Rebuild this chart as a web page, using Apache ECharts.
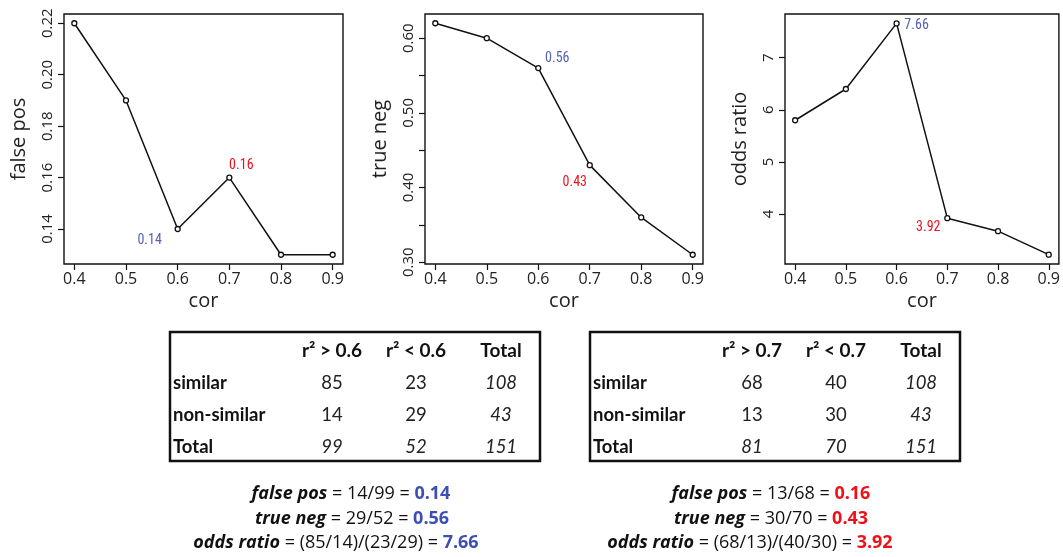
<!DOCTYPE html>
<html>
<head>
<meta charset="utf-8">
<script src="https://cdn.jsdelivr.net/npm/echarts@6/dist/echarts.min.js"></script>
<style>
  html, body { margin: 0; padding: 0; background: #fff; }
  #chart { width: 1063px; height: 557px; }
</style>
</head>
<body>
<div id="chart"></div>
<script>
// data
const cor = [0.4, 0.5, 0.6, 0.7, 0.8, 0.9];
const falsePos = [0.22, 0.19, 0.14, 0.16, 0.13, 0.13];
const trueNeg = [0.62, 0.60, 0.56, 0.43, 0.36, 0.31];
const oddsRatio = [5.8, 6.4, 7.66, 3.92, 3.67, 3.22];

const corTicks = [0.4, 0.5, 0.6, 0.7, 0.8, 0.9];
const fpTicks = [0.14, 0.16, 0.18, 0.20, 0.22];
const tnTicks = [0.30, 0.35, 0.40, 0.45, 0.50, 0.55, 0.60];
const tnLabels = [0.30, 0.40, 0.50, 0.60];
const orTicks = [4, 5, 6, 7];

// which points get a coloured note (r2 cut 0.6 = blue, 0.7 = red)
const blueIdx = 2;
const redIdx = 3;

const rowNames = ['similar', 'non-similar', 'Total'];
const heads1 = ['r² > 0.6', 'r² < 0.6', 'Total'];
const heads2 = ['r² > 0.7', 'r² < 0.7', 'Total'];
const counts1 = [[85, 23, 108], [14, 29, 43], [99, 52, 151]];
const counts2 = [[68, 40, 108], [13, 30, 43], [81, 70, 151]];

const formulas1 = [
  ['false pos', ' = 14/99 = ', '0.14'],
  ['true neg', ' = 29/52 = ', '0.56'],
  ['odds ratio', ' = (85/14)/(23/29) = ', '7.66']
];
const formulas2 = [
  ['false pos', ' = 13/68 = ', '0.16'],
  ['true neg', ' = 30/70 = ', '0.43'],
  ['odds ratio', ' = (68/13)/(40/30) = ', '3.92']
];

const BLUE = '#5462b4';
const BLUE_B = '#3d4fb0';
const RED = '#f0101a';
const FONT = 'Open Sans';
const TFONT = 'Lato';

const chart = echarts.init(document.getElementById('chart'));

const grids = [
  { left: 64, top: 14, width: 279, height: 250 },
  { left: 425, top: 14, width: 278, height: 250 },
  { left: 785, top: 14, width: 277, height: 250 }
].map(g => ({ ...g, show: true, borderColor: '#111', borderWidth: 1.4, backgroundColor: 'transparent' }));

const xAxes = [0, 1, 2].map(i => ({
  type: 'value',
  gridIndex: i,
  min: 0.38,
  max: 0.92,
  name: 'cor',
  nameLocation: 'middle',
  nameGap: 27,
  nameTextStyle: { fontFamily: FONT, fontSize: 20, color: '#222' },
  axisLine: { show: false },
  splitLine: { show: false },
  axisTick: { show: true, length: 6, customValues: corTicks, lineStyle: { color: '#111', width: 1.2 } },
  axisLabel: {
    customValues: corTicks, margin: 7,
    fontFamily: FONT, fontSize: 16, color: '#222',
    formatter: v => v.toFixed(1)
  }
}));

function yAxis(i, name, min, max, ticks, labels, digits) {
  return {
    type: 'value',
    gridIndex: i,
    min, max,
    name,
    nameLocation: 'middle',
    nameGap: 35,
    nameTextStyle: { fontFamily: FONT, fontSize: 20, color: '#222' },
    axisLine: { show: false },
    splitLine: { show: false },
    axisTick: { show: true, length: 6, customValues: ticks, lineStyle: { color: '#111', width: 1.2 } },
    axisLabel: {
      customValues: labels, rotate: 90, margin: 9,
      align: 'center', verticalAlign: 'bottom',
      fontFamily: FONT, fontSize: 15, color: '#222',
      formatter: v => v.toFixed(digits)
    }
  };
}

const yAxes = [
  yAxis(0, 'false pos', 0.1264, 0.2236, fpTicks, fpTicks, 2),
  yAxis(1, 'true neg', 0.2976, 0.6324, tnTicks, tnLabels, 2),
  yAxis(2, 'odds ratio', 3.04, 7.84, orTicks, orTicks, 0)
];

// note offsets relative to the point
const notes = [
  { blue: [-28, 11], red: [12, -12] },
  { blue: [19, -10], red: [-15, 17] },
  { blue: [20, 2], red: [-19, 9] }
];

function series(i, values) {
  return {
    type: 'line',
    xAxisIndex: i,
    yAxisIndex: i,
    data: values.map((v, k) => {
      const item = { value: [cor[k], v] };
      if (k === blueIdx || k === redIdx) {
        item.label = {
          show: true,
          position: 'inside',
          offset: k === blueIdx ? notes[i].blue : notes[i].red,
          formatter: () => v.toFixed(2),
          color: k === blueIdx ? BLUE : RED,
          fontFamily: 'Roboto Condensed, Roboto, sans-serif',
          fontSize: 14
        };
      }
      return item;
    }),
    symbol: 'circle',
    symbolSize: 5,
    itemStyle: { color: '#fff', borderColor: '#111', borderWidth: 1.3 },
    lineStyle: { color: '#111', width: 1.5 },
    label: { show: false },
    emphasis: { disabled: true },
    animation: false,
    z: 3
  };
}

function table(left, heads, counts) {
  const els = [{
    type: 'rect',
    shape: { x: left, y: 332, width: 370, height: 129 },
    style: { fill: 'none', stroke: '#111', lineWidth: 2.5 }
  }];
  const colX = [162, 246, 331];
  const rowY = [383, 415, 447];
  heads.forEach((h, c) => els.push({
    type: 'text', x: left + colX[c], y: 351,
    style: { text: h, fontFamily: TFONT, fontWeight: 'bold', fontSize: 19, fill: '#111', align: 'center', verticalAlign: 'middle' }
  }));
  rowNames.forEach((r, k) => {
    els.push({
      type: 'text', x: left + 3, y: rowY[k],
      style: { text: r, fontFamily: TFONT, fontWeight: 'bold', fontSize: 18.5, fill: '#111', align: 'left', verticalAlign: 'middle' }
    });
    counts[k].forEach((v, c) => els.push({
      type: 'text', x: left + colX[c], y: rowY[k],
      style: {
        text: String(v), fontFamily: TFONT, fontSize: 18.5, fill: '#222',
        fontStyle: (k === 2 || c === 2) ? 'italic' : 'normal',
        align: 'center', verticalAlign: 'middle'
      }
    }));
  });
  return els;
}

function formulaBlock(centers, lines, color) {
  const ys = [494, 519, 543];
  return lines.map((f, k) => ({
    type: 'text', x: centers[k], y: ys[k],
    style: {
      text: '{a|' + f[0] + '}{n|' + f[1] + '}{b|' + f[2] + '}',
      align: 'center', verticalAlign: 'middle',
      rich: {
        a: { fontFamily: FONT, fontSize: 18, fontStyle: 'italic', fontWeight: 'bold', fill: '#111', color: '#111' },
        n: { fontFamily: FONT, fontSize: 18, fill: '#111', color: '#111' },
        b: { fontFamily: FONT, fontSize: 18, fontWeight: 'bold', fill: color, color: color }
      }
    }
  }));
}

const option = {
  animation: false,
  backgroundColor: '#fff',
  grid: grids,
  xAxis: xAxes,
  yAxis: yAxes,
  series: [series(0, falsePos), series(1, trueNeg), series(2, oddsRatio)],
  graphic: [
    ...table(170, heads1, counts1),
    ...table(590, heads2, counts2),
    ...formulaBlock([351, 352, 336], formulas1, BLUE_B),
    ...formulaBlock([771, 771, 750], formulas2, RED)
  ]
};

chart.setOption(option);
</script>
</body>
</html>
